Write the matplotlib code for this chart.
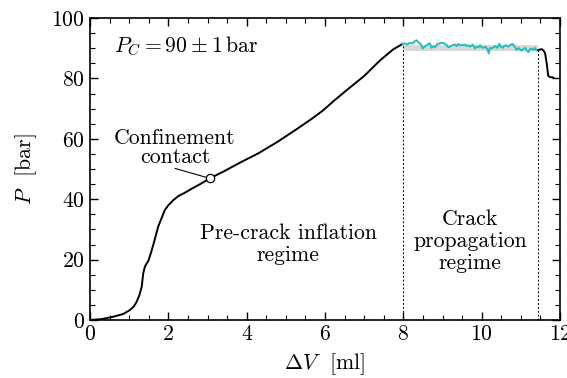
import matplotlib
matplotlib.use("Agg")
import matplotlib.pyplot as plt
from matplotlib.ticker import MultipleLocator

plt.rcParams['font.family'] = 'cmr10'
plt.rcParams['mathtext.fontset'] = 'cm'
plt.rcParams['axes.formatter.use_mathtext'] = True
plt.rcParams['axes.unicode_minus'] = False

# Pre-crack inflation curve
x_pre = [0.0, 0.3, 0.6, 0.85, 1.02, 1.12, 1.19, 1.26, 1.32, 1.36, 1.40, 1.45, 1.49, 1.57,
         1.65, 1.74, 1.91, 2.0, 2.13, 2.25, 2.43, 2.6, 2.8, 3.06, 3.4, 3.8, 4.30,
         4.8, 5.3, 5.66, 5.96, 6.21, 6.6, 7.0, 7.4, 7.74, 7.98]
p_pre = [0.0, 0.3, 1.1, 2.0, 3.3, 4.5, 6.0, 8.2, 11.0, 15.5, 17.6, 18.8, 19.6, 22.8,
         26.5, 30.9, 36.4, 38.0, 39.7, 41.0, 42.2, 43.5, 44.9, 46.9, 49.1, 51.9, 55.2,
         59.1, 63.4, 66.6, 69.5, 72.4, 76.6, 80.8, 85.9, 89.6, 91.4]

# Crack propagation (plateau) curve
x_crack = [7.98, 8.04, 8.10, 8.17, 8.23, 8.30, 8.34, 8.38, 8.44, 8.49, 8.54, 8.60, 8.64,
           8.68, 8.72, 8.77, 8.81, 8.87, 8.94, 9.00, 9.06, 9.11, 9.15, 9.19, 9.26, 9.32,
           9.36, 9.40, 9.45, 9.51, 9.57, 9.62, 9.66, 9.70, 9.77, 9.83, 9.87, 9.91, 9.96,
           10.00, 10.04, 10.09, 10.14, 10.18, 10.21, 10.26, 10.30, 10.34, 10.40, 10.45,
           10.49, 10.54, 10.57, 10.62, 10.68, 10.72, 10.79, 10.85, 10.89, 10.94, 10.98,
           11.02, 11.06, 11.11, 11.15, 11.19, 11.23, 11.28, 11.32, 11.36, 11.40, 11.45]
p_crack = [91.4, 91.6, 91.2, 91.8, 91.6, 92.4, 92.6, 92.0, 91.4, 89.9, 90.5, 91.0, 91.4,
           91.6, 90.1, 90.7, 90.3, 91.4, 91.6, 91.8, 91.4, 91.0, 90.3, 90.5, 91.0, 91.2,
           90.7, 91.4, 91.0, 91.0, 91.2, 90.7, 91.0, 90.5, 91.2, 89.9, 90.5, 90.3, 91.0,
           90.3, 90.1, 90.5, 89.9, 88.3, 90.1, 89.9, 90.3, 90.7, 90.1, 91.4,
           90.5, 90.1, 90.7, 91.0, 90.5, 91.0, 91.4, 90.3, 89.4, 90.1, 89.6,
           89.2, 89.6, 90.1, 89.2, 88.7, 89.6, 89.9, 89.4, 90.1, 89.2, 89.4]

# Post-crack tail
x_tail = [11.45, 11.53, 11.58, 11.62, 11.66, 11.70, 11.76, 11.83]
p_tail = [89.4, 89.7, 89.2, 88.3, 85.0, 80.8, 80.4, 80.3]

crack_start = 8.0
crack_end = 11.45
pc_low, pc_high = 89.0, 91.0
contact_x, contact_p = 3.06, 46.9

fig = plt.figure(figsize=(5.67, 3.78), dpi=100)
ax = fig.add_axes([90/567, 58/378, 470/567, 302/378])

ax.fill_between([crack_start, crack_end], pc_low, pc_high, color='#d9d9d9', lw=0, zorder=1)
ax.plot([crack_start, crack_start], [0, 91.3], ls=(0, (2, 2)), color='k', lw=0.7, zorder=2)
ax.plot([crack_end, crack_end], [0, 89.4], ls=(0, (2, 2)), color='k', lw=0.7, zorder=2)
ax.plot(x_pre, p_pre, color='k', lw=1.4, zorder=3)
ax.plot(x_crack, p_crack, color='#1fbfbf', lw=1.4, zorder=3)
ax.plot(x_tail, p_tail, color='k', lw=1.4, zorder=3)

ax.annotate('', xy=(contact_x, contact_p), xytext=(2.17, 50.2),
            arrowprops=dict(arrowstyle='-', color='k', lw=0.8, shrinkA=0, shrinkB=3))
ax.plot([contact_x], [contact_p], 'o', mfc='white', mec='k', ms=6, mew=0.9, zorder=4)

fs = 15.7
ax.text(0.6, 90.5, r'$P_C = 90 \pm 1\,\mathrm{bar}$', fontsize=fs, va='center', ha='left')
ax.text(2.17, 57, 'Confinement\ncontact', fontsize=fs, ha='center', va='center',
        linespacing=1.0)
ax.text(5.06, 25, 'Pre-crack inflation\nregime', fontsize=fs, ha='center', va='center',
        linespacing=1.15)
ax.text(9.70, 26, 'Crack\npropagation\nregime', fontsize=fs, ha='center', va='center',
        linespacing=1.15)

ax.set_xlim(0, 12)
ax.set_ylim(0, 100)
ax.xaxis.set_major_locator(MultipleLocator(2))
ax.xaxis.set_minor_locator(MultipleLocator(0.5))
ax.yaxis.set_major_locator(MultipleLocator(20))
ax.yaxis.set_minor_locator(MultipleLocator(5))
ax.tick_params(which='both', direction='in', top=True, right=True, labelsize=fs)
ax.tick_params(which='major', length=5.5, width=1)
ax.tick_params(which='minor', length=3.5, width=0.8)
for s in ax.spines.values():
    s.set_linewidth(1.2)
ax.set_xlabel(r'$\Delta V$  [ml]', fontsize=fs, labelpad=5)
ax.set_ylabel(r'$P$  [bar]', fontsize=fs, labelpad=9)

fig.savefig('out.png', dpi=100)
